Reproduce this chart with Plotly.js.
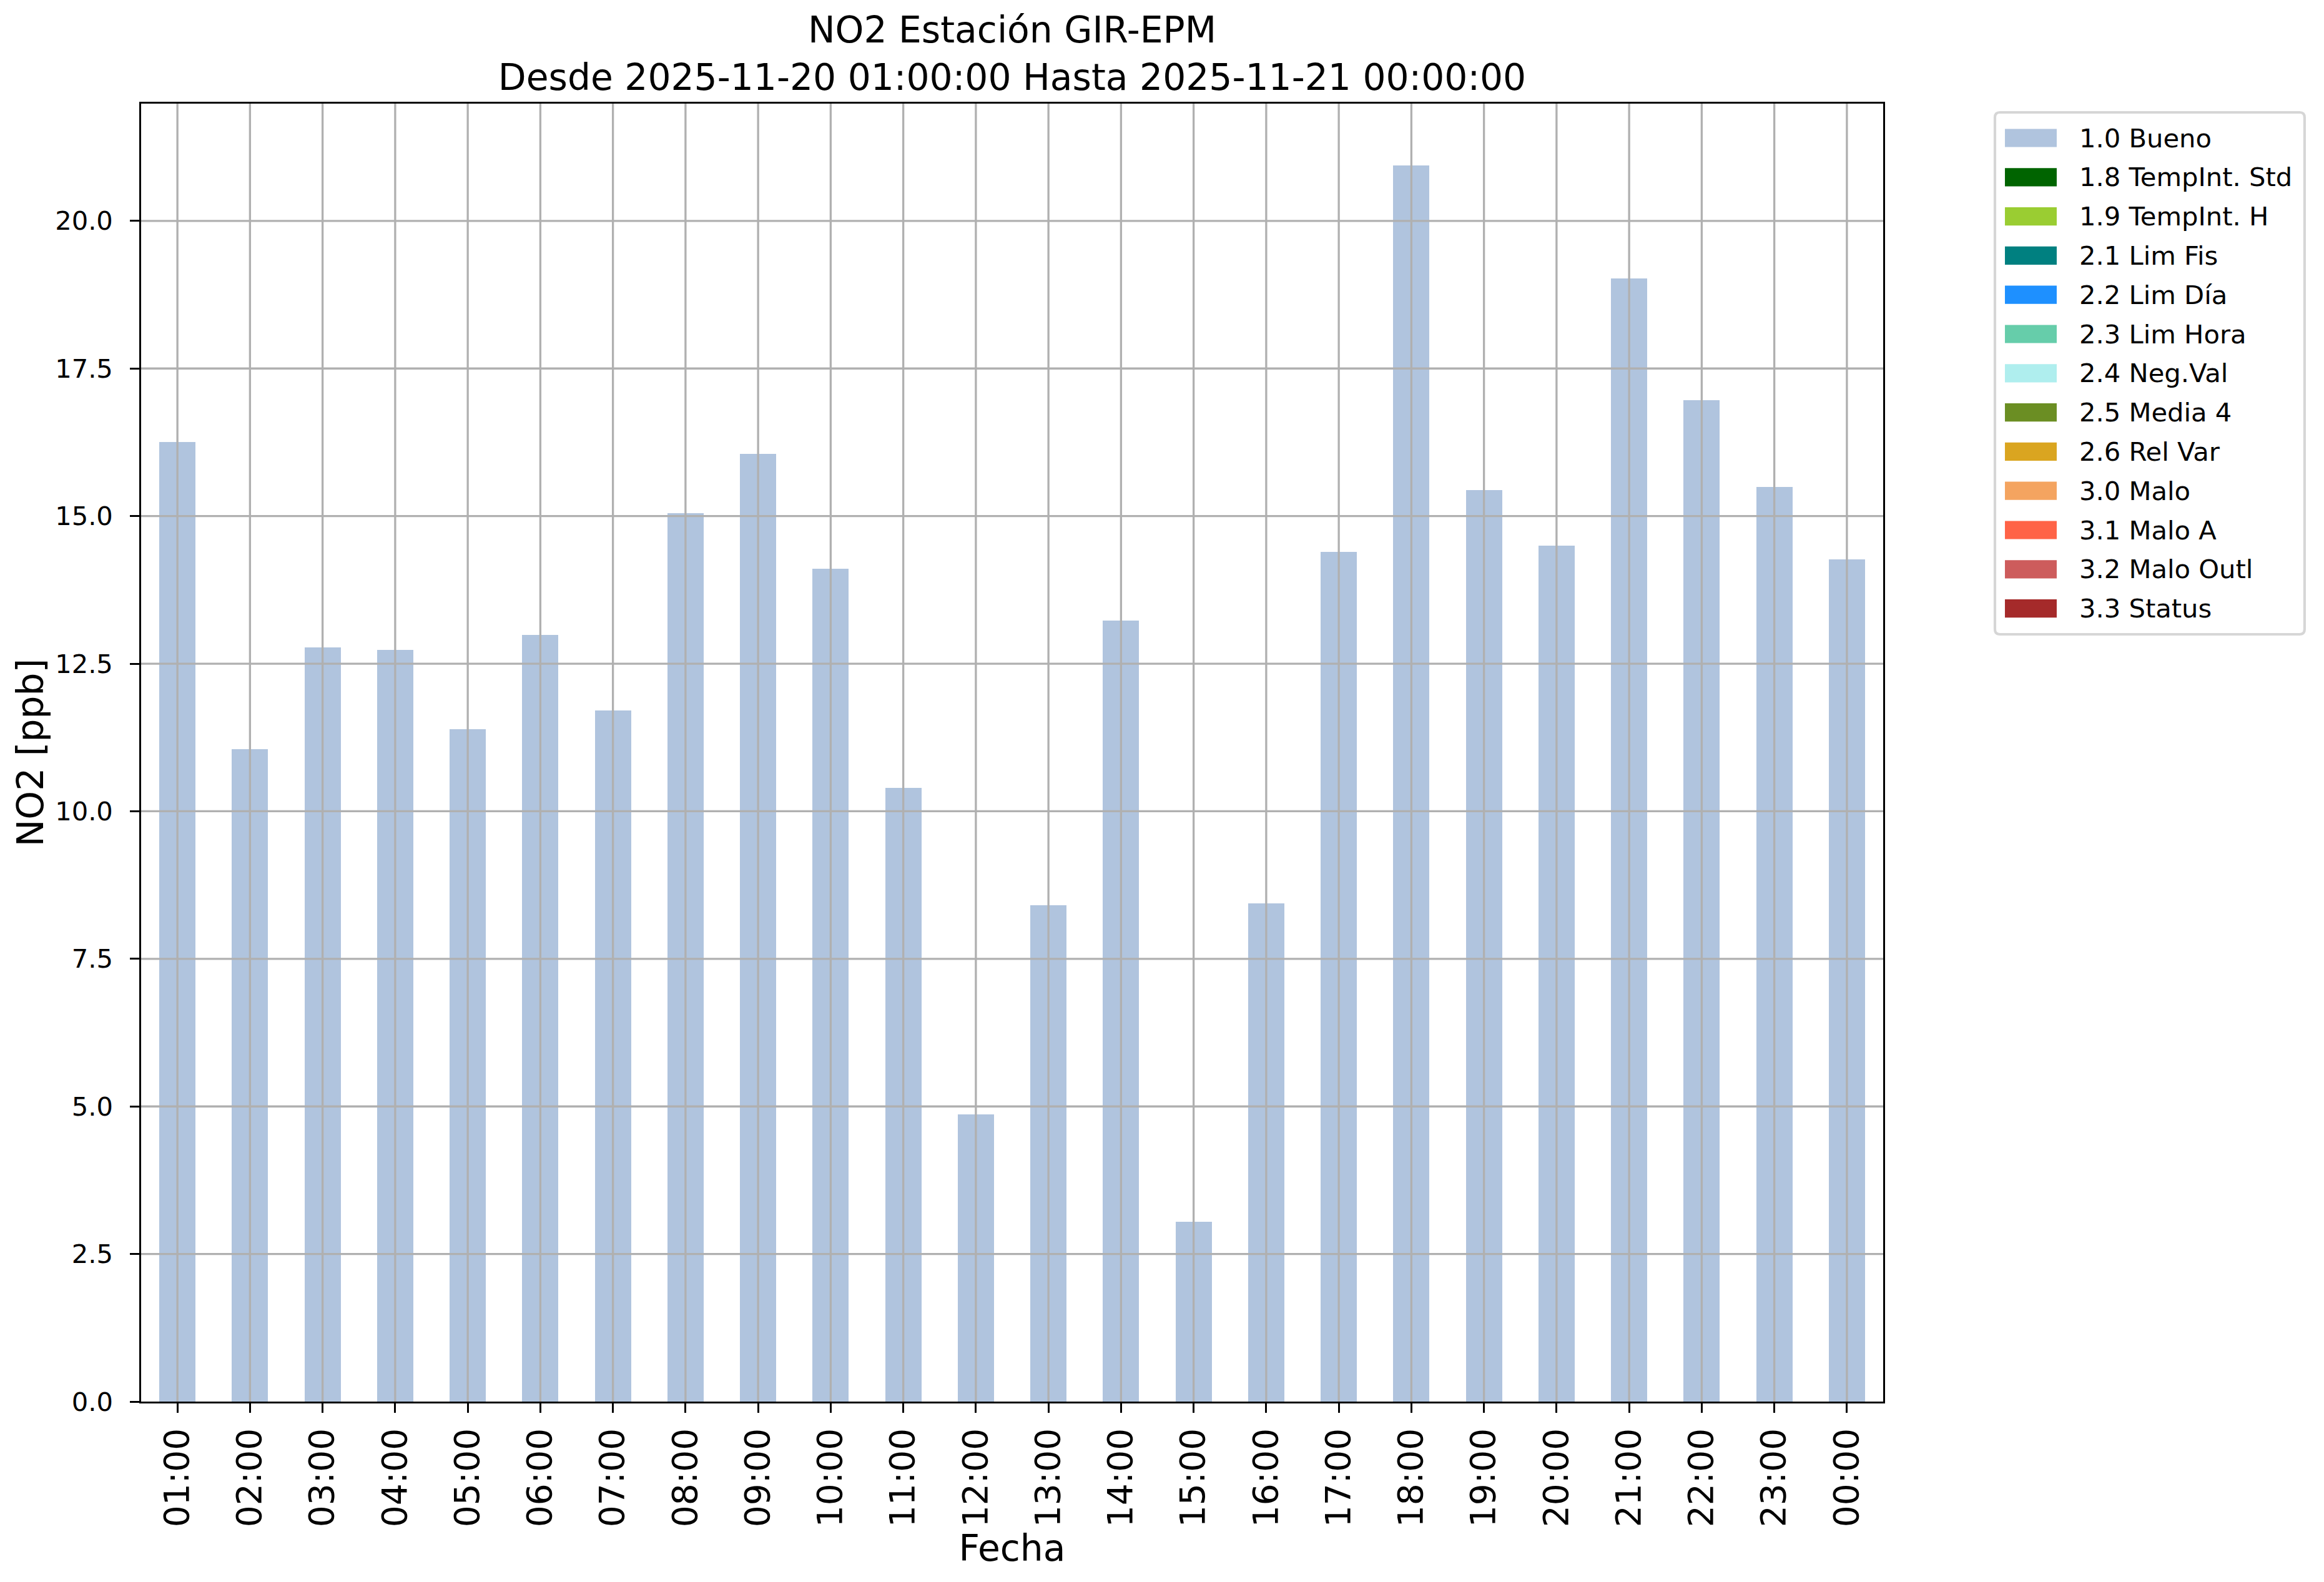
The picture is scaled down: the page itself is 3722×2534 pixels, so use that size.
<!DOCTYPE html>
<html>
<head>
<meta charset="utf-8">
<script src="https://cdn.plot.ly/plotly-3.0.1.min.js"></script>
<style>
html, body { margin: 0; padding: 0; background: #ffffff; }
#chart { width: 3722px; height: 2534px; }
</style>
</head>
<body>
<div id="chart"></div>
<script>
// ---- Data ----
const horas = ["01:00","02:00","03:00","04:00","05:00","06:00","07:00","08:00","09:00","10:00","11:00","12:00",
               "13:00","14:00","15:00","16:00","17:00","18:00","19:00","20:00","21:00","22:00","23:00","00:00"];
const no2Bueno = [16.25, 11.05, 12.78, 12.73, 11.39, 12.99, 11.71, 15.05, 16.05, 14.11, 10.40, 4.86,
                  8.41, 13.23, 3.05, 8.44, 14.39, 20.94, 15.44, 14.50, 19.03, 16.96, 15.49, 14.27];
const categorias = ["1.0 Bueno", "1.8 TempInt. Std", "1.9 TempInt. H", "2.1 Lim Fis", "2.2 Lim Día",
                    "2.3 Lim Hora", "2.4 Neg.Val", "2.5 Media 4", "2.6 Rel Var", "3.0 Malo",
                    "3.1 Malo A", "3.2 Malo Outl", "3.3 Status"];
const colores = ["#B0C4DE", "#006400", "#9ACD32", "#008080", "#1E90FF", "#66CDAA", "#AFEEEE",
                 "#6B8E23", "#DAA520", "#F4A460", "#FF6347", "#CD5C5C", "#A52A2A"];
const yTicks = [0, 2.5, 5, 7.5, 10, 12.5, 15, 17.5, 20];
const titulo = "NO2 Estación GIR-EPM<br>Desde 2025-11-20 01:00:00 Hasta 2025-11-21 00:00:00";

// ---- Geometry ----
const W = 3722, H = 2534;
const PL = 225.5, PR = 3016, PT = 166, PB = 2245;
const px2x = px => (px - PL) / (PR - PL);
const py2y = py => (PB - py) / (PB - PT);
const FONT = "DejaVu Sans, Liberation Sans, sans-serif";
const GRID = "#b0b0b0";
const LW = 3.33;

// ---- Traces: one bar series per quality flag (only 1.0 Bueno has data) ----
const traces = categorias.map((cat, i) => ({
  type: "bar",
  name: cat,
  x: horas,
  y: i === 0 ? no2Bueno : horas.map(() => null),
  width: 0.5,
  marker: { color: colores[i], line: { width: 0 } },
  showlegend: false,
  hoverinfo: "x+y+name"
}));

// ---- Gridlines drawn above the bars (as in the reference) ----
const shapes = [];
horas.forEach(h => shapes.push({
  type: "line", layer: "above", xref: "x", yref: "paper",
  x0: h, x1: h, y0: 0, y1: 1, line: { color: GRID, width: LW }
}));
yTicks.filter(v => v > 0).forEach(v => shapes.push({
  type: "line", layer: "above", xref: "paper", yref: "y",
  x0: 0, x1: 1, y0: v, y1: v, line: { color: GRID, width: LW }
}));

// ---- Legend (box, swatches, labels) ----
const LX0 = 3195, LX1 = 3691, LY0 = 180, LY1 = 1016, R = 8;
const legPath = () => {
  const xa = px2x(LX0), xb = px2x(LX1), ya = py2y(LY0), yb = py2y(LY1);
  const rx = R / (PR - PL), ry = R / (PB - PT);
  return `M${xa + rx},${ya} L${xb - rx},${ya} Q${xb},${ya} ${xb},${ya - ry} ` +
         `L${xb},${yb + ry} Q${xb},${yb} ${xb - rx},${yb} L${xa + rx},${yb} ` +
         `Q${xa},${yb} ${xa},${yb + ry} L${xa},${ya - ry} Q${xa},${ya} ${xa + rx},${ya} Z`;
};
shapes.push({
  type: "path", layer: "above", xref: "paper", yref: "paper", path: legPath(),
  fillcolor: "rgba(255,255,255,0.8)", line: { color: "#d6d6d6", width: 4.17 }
});
const annotations = [];
const ROW0 = 221, PITCH = 62.8;
categorias.forEach((cat, i) => {
  const cy = ROW0 + i * PITCH;
  shapes.push({
    type: "rect", layer: "above", xref: "paper", yref: "paper",
    x0: px2x(3211), x1: px2x(3294), y0: py2y(cy - 14.6), y1: py2y(cy + 14.6),
    fillcolor: colores[i], line: { width: 0 }
  });
  annotations.push({
    xref: "paper", yref: "paper", x: px2x(3328), y: py2y(cy),
    xanchor: "left", yanchor: "middle", showarrow: false,
    text: cat, font: { family: FONT, size: 41.67, color: "#000000" }
  });
});

const layout = {
  width: W, height: H,
  margin: { l: PL, r: W - PR, t: PT, b: H - PB, pad: 0 },
  paper_bgcolor: "#ffffff", plot_bgcolor: "#ffffff",
  font: { family: FONT, color: "#000000" },
  showlegend: false,
  barmode: "stack",
  title: {
    text: titulo,
    font: { family: FONT, size: 58.3, color: "#000000" },
    xref: "paper", x: 0.5, xanchor: "center",
    yref: "paper", y: 1, yanchor: "bottom",
    pad: { b: 98 }
  },
  xaxis: {
    type: "category",
    range: [-0.5, horas.length - 0.5],
    showgrid: false, zeroline: false,
    showline: true, mirror: true, linecolor: "#000000", linewidth: LW,
    ticks: "outside", ticklen: 14.6, tickwidth: LW, tickcolor: "#000000",
    tickangle: -90,
    tickfont: { family: FONT, size: 55, color: "#000000" },
    ticklabelstandoff: 3,
    automargin: false,
    title: { text: "Fecha", font: { family: FONT, size: 58.3, color: "#000000" }, standoff: 0 }
  },
  yaxis: {
    range: [0, Math.max(...no2Bueno) * 1.05],
    tickvals: yTicks, ticktext: yTicks.map(v => v.toFixed(1)),
    showgrid: false, zeroline: false,
    showline: true, mirror: true, linecolor: "#000000", linewidth: LW,
    ticks: "outside", ticklen: 14.6, tickwidth: LW, tickcolor: "#000000",
    tickfont: { family: FONT, size: 41.67, color: "#000000" },
    ticklabelstandoff: 19,
    automargin: false,
    title: { text: "NO2 [ppb]", font: { family: FONT, size: 58.3, color: "#000000" }, standoff: 0 }
  },
  shapes: shapes,
  annotations: annotations
};

Plotly.newPlot("chart", traces, layout, { displayModeBar: false, responsive: false });
</script>
</body>
</html>
